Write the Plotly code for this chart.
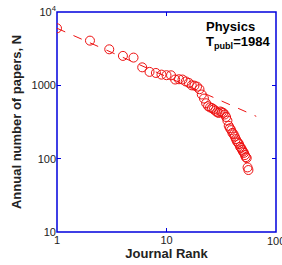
import plotly.graph_objects as go

ranks = list(range(1, 57))
papers = [6000, 4070, 3100, 2520, 2390, 1760, 1525, 1475, 1400, 1375,
          1370, 1200, 1210, 1200, 1130, 1080, 1000, 990, 960, 885,
          750, 660, 570, 520, 500, 490, 470, 450, 430, 420,
          440, 430, 420, 400, 370, 330, 280, 260, 245, 225,
          215, 200, 185, 172, 165, 158, 145, 140, 132, 125,
          120, 112, 105, 102, 76, 70]

fit_x = [1, 66]
fit_a = 6000
fit_b = -0.66
fit_y = [fit_a * x ** fit_b for x in fit_x]

x_ticks = [1, 10, 100]
x_ticklabels = ["1", "10", "100"]
y_ticks = [10, 100, 1000, 10000]
y_ticklabels = ["10", "100", "1000", "10<sup>4</sup>"]

blue = "#0000dd"
red = "#ee1111"
txt = "#222222"
fam = "Liberation Sans"

fig = go.Figure()
fig.add_trace(go.Scatter(x=fit_x, y=fit_y, mode="lines",
                         line=dict(color=red, width=1, dash="dash"),
                         showlegend=False, hoverinfo="skip"))
fig.add_trace(go.Scatter(x=ranks, y=papers, mode="markers",
                         marker=dict(symbol="circle-open", size=9, color=red,
                                     line=dict(width=1, color=red)),
                         showlegend=False))

# frame (all four sides)
fig.add_shape(type="rect", xref="paper", yref="paper", x0=0, x1=1, y0=0, y1=1,
              line=dict(color=blue, width=1.5), layer="below")

fig.add_annotation(x=0.67, y=0.935, xref="paper", yref="paper", xanchor="left",
                   yanchor="middle", showarrow=False, align="left",
                   text="<b>Physics</b>", font=dict(size=13, color="black", family=fam))
fig.add_annotation(x=0.67, y=0.86, xref="paper", yref="paper", xanchor="left",
                   yanchor="middle", showarrow=False, align="left",
                   text="<b>T<sub>publ</sub>=1984</b>",
                   font=dict(size=13, color="black", family=fam))
# last x tick label, cut at the page edge as in the original
fig.add_annotation(x=1, y=0, xref="paper", yref="paper", xanchor="center",
                   yanchor="top", yshift=-1, showarrow=False,
                   text=x_ticklabels[-1], font=dict(size=11, color=txt, family=fam))

fig.update_layout(
    width=282, height=265,
    margin=dict(l=57, r=6, t=12, b=33),
    plot_bgcolor="white", paper_bgcolor="white",
    font=dict(family=fam, size=11, color=txt),
)
fig.update_xaxes(type="log", range=[0, 2], tickvals=x_ticks,
                 ticktext=x_ticklabels, ticks="inside", ticklen=4,
                 tickcolor=blue, tickwidth=1, showline=False,
                 mirror="ticks", showgrid=False, zeroline=False,
                 automargin=False,
                 title=dict(text="<b>Journal Rank</b>", font=dict(size=13, color=txt),
                            standoff=0))
fig.update_yaxes(type="log", range=[1, 4], tickvals=y_ticks,
                 ticktext=y_ticklabels, ticks="inside",
                 ticklen=4, tickcolor=blue, tickwidth=1, showline=False,
                 mirror="ticks", showgrid=False,
                 zeroline=False, automargin=False,
                 title=dict(text="<b>Annual number of papers, N</b>",
                            font=dict(size=13, color=txt), standoff=6))

fig.write_html("out.html", config={"displayModeBar": False},
               post_script=("document.documentElement.style.overflow='hidden';"
                            "document.body.style.margin='0';"
                            "document.body.style.padding='0';"
                            "document.body.style.overflow='hidden';"))
